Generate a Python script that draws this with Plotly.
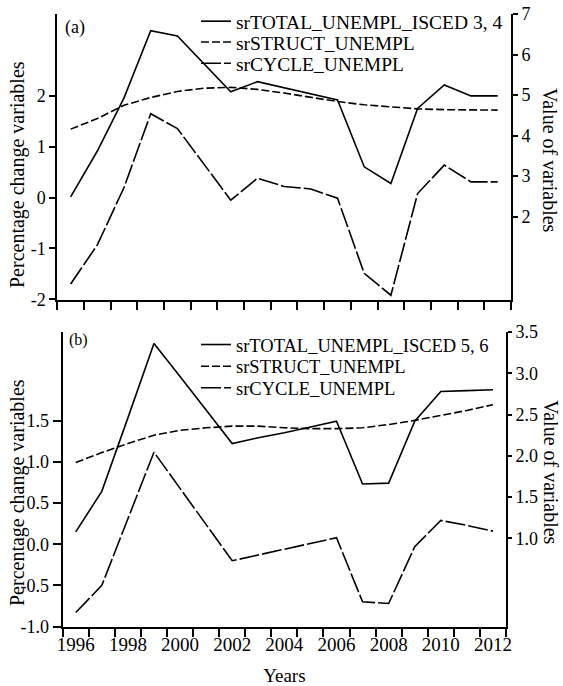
import plotly.graph_objects as go

W, H = 563, 686

years = list(range(1996, 2013))
year_bounds = [y + 0.5 for y in range(1995, 2013)]
label_years = list(range(1996, 2013, 2))

# Panel (a): ISCED 3, 4
a_total = [2.49, 3.62, 4.93, 6.59, 6.46, 5.77, 5.08, 5.33, 5.18, 5.03, 4.88, 3.23, 2.82, 4.67, 5.25, 4.98, 4.98]
a_struct = [4.16, 4.42, 4.75, 4.94, 5.09, 5.17, 5.19, 5.14, 5.05, 4.95, 4.84, 4.76, 4.71, 4.66, 4.64, 4.63, 4.63]
a_cycle = [-1.70, -0.93, 0.20, 1.65, 1.36, 0.66, -0.05, 0.38, 0.22, 0.17, -0.01, -1.49, -1.92, 0.08, 0.64, 0.31, 0.31]

# Panel (b): ISCED 5, 6
b_total = [1.08, 1.57, 2.46, 3.36, 2.96, 2.55, 2.15, 2.22, 2.28, 2.35, 2.42, 1.66, 1.67, 2.42, 2.78, 2.79, 2.80]
b_struct = [1.92, 2.04, 2.15, 2.25, 2.31, 2.34, 2.36, 2.36, 2.34, 2.33, 2.33, 2.34, 2.38, 2.43, 2.49, 2.55, 2.62]
b_cycle = [-0.83, -0.50, 0.31, 1.12, 0.68, 0.24, -0.20, -0.13, -0.06, 0.01, 0.08, -0.70, -0.72, -0.03, 0.29, 0.23, 0.16]

names_a = ["srTOTAL_UNEMPL_ISCED 3, 4", "srSTRUCT_UNEMPL", "srCYCLE_UNEMPL"]
names_b = ["srTOTAL_UNEMPL_ISCED 5, 6", "srSTRUCT_UNEMPL", "srCYCLE_UNEMPL"]

FONT = "Liberation Serif"
BLACK = "#000000"
SOLID = "solid"
SHORT = "8px,3px"
LONG = "20px,3px"


def px(x):
    return x / W


def py(y):
    return 1 - y / H


fig = go.Figure()

# panel (a)
fig.add_trace(go.Scatter(x=years, y=a_total, name=names_a[0], xaxis="x", yaxis="y2",
                         mode="lines", line=dict(color=BLACK, width=1.6, dash=SOLID), legend="legend"))
fig.add_trace(go.Scatter(x=years, y=a_struct, name=names_a[1], xaxis="x", yaxis="y2",
                         mode="lines", line=dict(color=BLACK, width=1.6, dash=SHORT), legend="legend2"))
fig.add_trace(go.Scatter(x=years, y=a_cycle, name=names_a[2], xaxis="x", yaxis="y",
                         mode="lines", line=dict(color=BLACK, width=1.6, dash=LONG), legend="legend3"))
# panel (b)
fig.add_trace(go.Scatter(x=years, y=b_total, name=names_b[0], xaxis="x2", yaxis="y4",
                         mode="lines", line=dict(color=BLACK, width=1.6, dash=SOLID), legend="legend4"))
fig.add_trace(go.Scatter(x=years, y=b_struct, name=names_b[1], xaxis="x2", yaxis="y4",
                         mode="lines", line=dict(color=BLACK, width=1.6, dash=SHORT), legend="legend5"))
fig.add_trace(go.Scatter(x=years, y=b_cycle, name=names_b[2], xaxis="x2", yaxis="y3",
                         mode="lines", line=dict(color=BLACK, width=1.6, dash=LONG), legend="legend6"))
for tr in fig.data:
    tr.showlegend = True

tickfont = dict(family=FONT, size=18, color=BLACK)
xtickfont = dict(family=FONT, size=19, color=BLACK)

common_x = dict(range=[1995.5, 2012.5], showline=True, linewidth=2, linecolor=BLACK,
                showgrid=False, zeroline=False, tickmode="array", tickvals=label_years,
                ticktext=[str(y) for y in label_years], ticks="", tickfont=xtickfont,
                automargin=False,
                minor=dict(tickmode="array", tickvals=year_bounds, ticks="outside",
                           ticklen=8, tickwidth=1.5, tickcolor=BLACK, showgrid=False))
common_y = dict(showline=True, linewidth=2, linecolor=BLACK, showgrid=False, zeroline=False,
                automargin=False, tickmode="array", ticks="outside", tickwidth=1.5,
                tickcolor=BLACK, tickfont=tickfont)

fig.update_layout(
    width=W, height=H,
    paper_bgcolor="white", plot_bgcolor="white",
    margin=dict(l=0, r=0, t=0, b=0, autoexpand=False),
    showlegend=True,
    hovermode=False,
    font=dict(family=FONT, color=BLACK),
    xaxis=dict(common_x, domain=[px(57.3), px(511)], anchor="y", showticklabels=False),
    xaxis2=dict(common_x, domain=[px(62.7), px(506)], anchor="y3",
                title=dict(text="Years", font=dict(family=FONT, size=19, color=BLACK), standoff=14)),
    yaxis=dict(common_y, domain=[py(300), py(14)], anchor="x", range=[-2.014, 3.613],
               tickvals=[-2, -1, 0, 1, 2], ticktext=["-2", "-1", "0", "1", "2"], ticklen=6),
    yaxis2=dict(common_y, overlaying="y", anchor="x", side="right", range=[-0.055, 7],
                tickvals=[2, 3, 4, 5, 6, 7], ticklen=5),
    yaxis3=dict(common_y, domain=[py(626.5), py(332)], anchor="x2", range=[-1.0, 2.582],
                tickvals=[-1.0, -0.5, 0.0, 0.5, 1.0, 1.5],
                ticktext=["-1.0", "-0.5", "0.0", "0.5", "1.0", "1.5"], ticklen=8),
    yaxis4=dict(common_y, overlaying="y3", anchor="x2", side="right", range=[-0.066, 3.5],
                tickvals=[1.0, 1.5, 2.0, 2.5, 3.0, 3.5],
                ticktext=["1.0", "1.5", "2.0", "2.5", "3.0", "3.5"], ticklen=4),
)

legend_rows = [(21.5, "legend", 19.5), (42.3, "legend2", 19.5), (63.5, "legend3", 19.5),
               (345, "legend4", 18.5), (366.7, "legend5", 18.5), (388.3, "legend6", 18.5)]
for ypix, key, fs in legend_rows:
    fig.update_layout({key: dict(x=px(196), y=py(ypix), xanchor="left", yanchor="middle",
                                 bgcolor="rgba(0,0,0,0)", borderwidth=0,
                                 font=dict(family=FONT, size=fs, color=BLACK),
                                 itemclick=False, itemdoubleclick=False)})

annots = [
    dict(text="(a)", x=px(75), y=py(27.5), size=18, angle=0),
    dict(text="(b)", x=px(78), y=py(340), size=16, angle=0),
    dict(text="Percentage change variables", x=px(18), y=py(175), size=20, angle=-90),
    dict(text="Percentage change variables", x=px(17.5), y=py(492.5), size=20, angle=-90),
    dict(text="Value of variables", x=px(550), y=py(160), size=20, angle=90),
    dict(text="Value of variables", x=px(551.5), y=py(472.5), size=20, angle=90),
]
for a in annots:
    fig.add_annotation(text=a["text"], x=a["x"], y=a["y"], xref="paper", yref="paper",
                       xanchor="center", yanchor="middle", showarrow=False, textangle=a["angle"],
                       font=dict(family=FONT, size=a["size"], color=BLACK))

fig.write_html("out.html",
               config={"displayModeBar": False, "staticPlot": False},
               post_script="document.body.style.margin='0';document.body.style.padding='0';")
